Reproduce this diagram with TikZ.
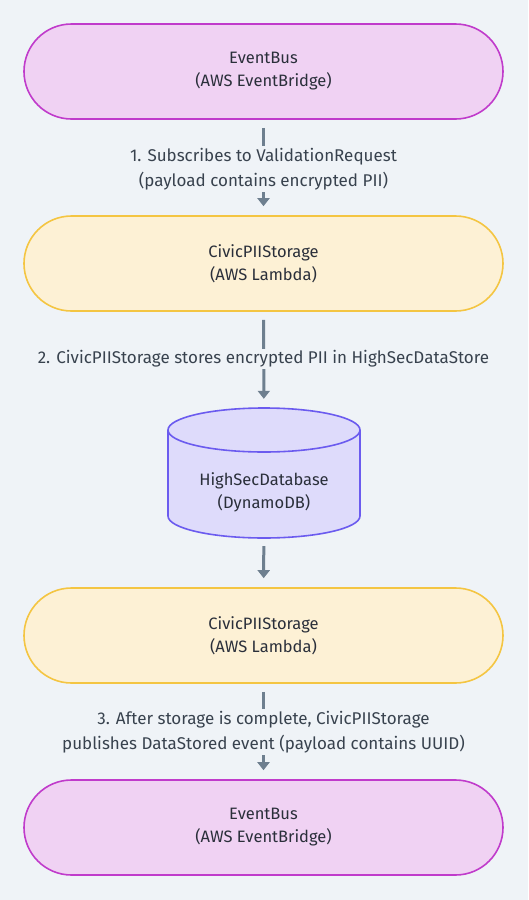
\documentclass[tikz,border=0pt]{standalone}
\usepackage{fontspec}
\setmainfont{Fira Sans}
\usetikzlibrary{arrows.meta}
\definecolor{bg}{HTML}{EFF3F7}
\definecolor{busfill}{HTML}{F0D2F3}
\definecolor{busdraw}{HTML}{C03BCB}
\definecolor{lamfill}{HTML}{FDF1D5}
\definecolor{lamdraw}{HTML}{F4C542}
\definecolor{dbfill}{HTML}{DEDBFB}
\definecolor{dbdraw}{HTML}{6B5BEF}
\definecolor{arr}{HTML}{6E7F8F}
\definecolor{txt}{HTML}{2A2F3A}
\definecolor{lbl}{HTML}{38424E}
\tikzset{
  pill/.style={rounded corners=47.5pt, minimum width=479pt, minimum height=95pt, line width=1.6pt, align=center, text=txt, font=\fontsize{16.5}{23}\selectfont},
  bus/.style={pill, fill=busfill, draw=busdraw},
  lam/.style={pill, fill=lamfill, draw=lamdraw},
  flow/.style={draw=arr, line width=3pt, -{Triangle[width=12pt,length=8pt]}, shorten <=8pt, shorten >=9pt},
  lab/.style={fill=bg, align=center, text=lbl, font=\fontsize{17}{25}\selectfont, inner sep=2pt}
}
\begin{document}
\begin{tikzpicture}[x=1pt,y=-1pt]
\fill[bg] (0,0) rectangle (528,900);
\useasboundingbox (0,0) rectangle (528,900);
\node[bus] (bus1) at (263.5,71.5) {EventBus\\(AWS EventBridge)};
\node[lam] (lam1) at (263.5,263.5) {CivicPIIStorage\\(AWS Lambda)};
\node[minimum width=192pt, minimum height=130pt, inner sep=0pt] (db) at (264,473) {};
\node[lam] (lam2) at (263.5,635.5) {CivicPIIStorage\\(AWS Lambda)};
\node[bus] (bus2) at (263.5,827.5) {EventBus\\(AWS EventBridge)};
% cylinder
\path[fill=dbfill, draw=dbdraw, line width=1.6pt]
  (168,430) -- (168,516) arc[start angle=180, end angle=360, x radius=96, y radius=-22]
  -- (360,430) arc[start angle=0, end angle=180, x radius=96, y radius=-22] -- cycle;
\draw[dbdraw, line width=1.6pt] (168,430) arc[start angle=180, end angle=360, x radius=96, y radius=-22];
\node[align=center, text=txt, font=\fontsize{16.5}{23}\selectfont] (dbt) at (264,492) {HighSecDatabase\\(DynamoDB)};
% connectors
\draw[flow] (bus1) -- (lam1);
\draw[flow] (lam1) -- (db);
\draw[flow] (db) -- (lam2);
\draw[flow] (lam2) -- (bus2);
\node[lab] (l1) at (263.5,169) {1. Subscribes to ValidationRequest\\(payload contains encrypted PII)};
\node[lab] (l2) at (263.5,359) {2. CivicPIIStorage stores encrypted PII in HighSecDataStore};
\node[lab] (l3) at (263.5,732) {3. After storage is complete, CivicPIIStorage\\publishes DataStored event (payload contains UUID)};
\end{tikzpicture}
\end{document}
